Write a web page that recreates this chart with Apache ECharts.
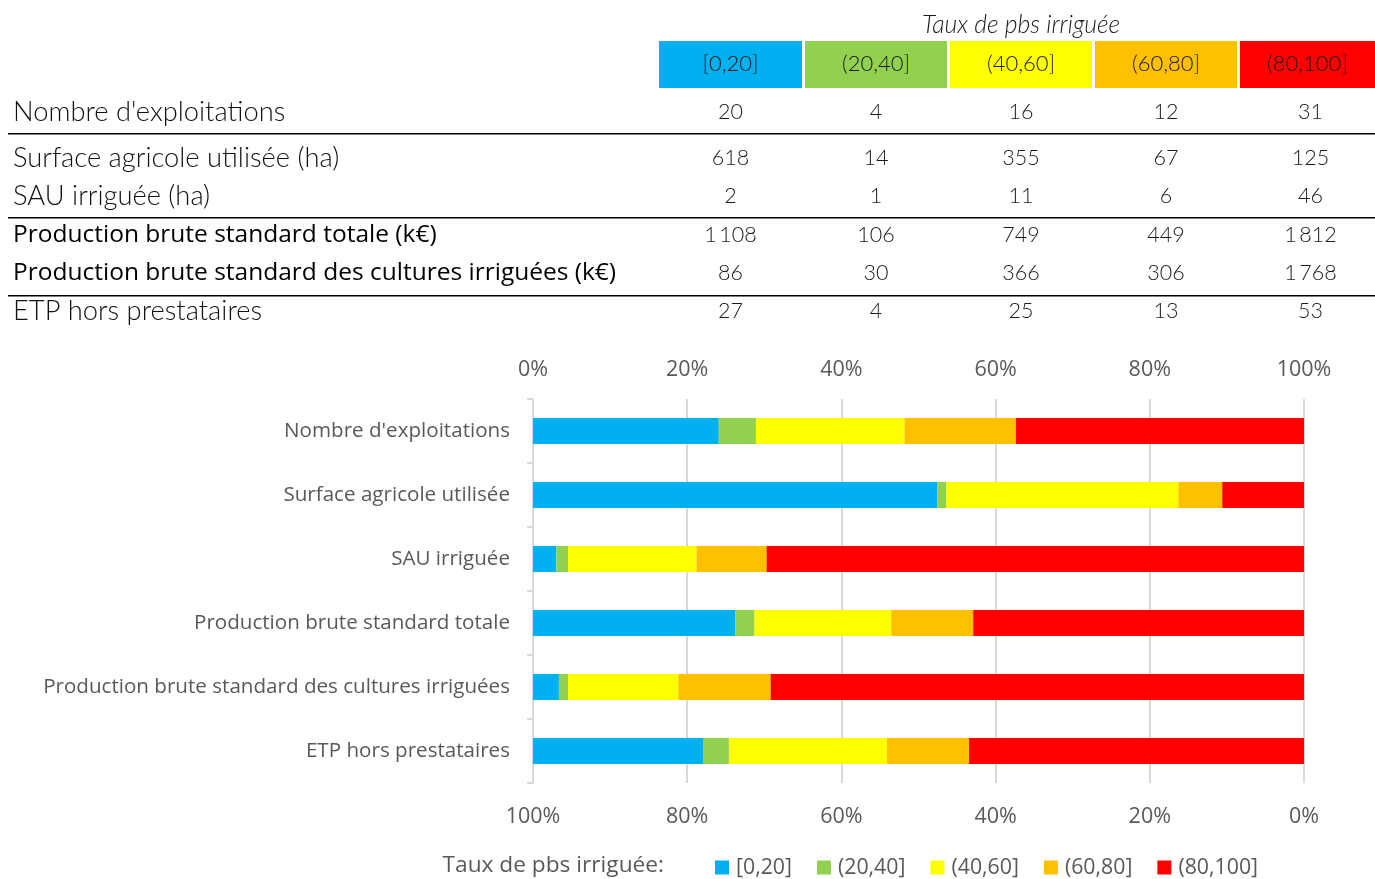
<!DOCTYPE html>
<html><head><meta charset="utf-8">
<script src="https://cdn.jsdelivr.net/npm/echarts@6/dist/echarts.min.js"></script>
<style>html,body{margin:0;padding:0;background:#fff}#c{width:1375px;height:879px}</style>
</head><body><div id="c"></div>
<script>
const classes = ['[0,20]', '(20,40]', '(40,60]', '(60,80]', '(80,100]'];
const colors = ['#00B0F0', '#92D050', '#FFFF00', '#FFC000', '#FF0000'];
const tableRows = ["Nombre d'exploitations", 'Surface agricole utilisée (ha)', 'SAU irriguée (ha)', 'Production brute standard totale (k€)', 'Production brute standard des cultures irriguées (k€)', 'ETP hors prestataires'];
const categories = ["Nombre d'exploitations", 'Surface agricole utilisée', 'SAU irriguée', 'Production brute standard totale', 'Production brute standard des cultures irriguées', 'ETP hors prestataires'];
const nbExpl = [20, 4, 16, 12, 31];
const sau = [618, 14, 355, 67, 125];
const sauIrr = [2, 1, 11, 6, 46];
const pbsTot = [1108, 106, 749, 449, 1812];
const pbsIrr = [86, 30, 366, 306, 1768];
const etp = [27, 4, 25, 13, 53];
const rows = [nbExpl, sau, sauIrr, pbsTot, pbsIrr, etp];
const topTicks = ['0%', '20%', '40%', '60%', '80%', '100%'];

function fmt(v){ return v >= 1000 ? String(Math.floor(v/1000)) + '\u2009' + String(v%1000).padStart(3,'0') : String(v); }

const shares = rows.map(r => { const t = r.reduce((a,b)=>a+b,0); return r.map(v => v / t * 100); });

const g = [];
g.push({type:'text', x:1021, y:25, style:{text:'Taux de pbs irriguée', font:'italic 300 24.7px Lato', fill:'#1a1a1a', align:'center', verticalAlign:'middle'}});
const colX = [659, 805, 950, 1095, 1240];
const colW = [143, 142, 142, 142, 135];
classes.forEach((c,i)=>{
  g.push({type:'rect', shape:{x:colX[i], y:41, width:colW[i], height:47}, style:{fill:colors[i]}});
  g.push({type:'text', x:colX[i]+colW[i]/2, y:64, style:{text:c, font:'300 22px Lato', fill:'#1a1a1a', align:'center', verticalAlign:'middle'}});
});
const rowY = [112, 158, 196, 235, 273, 311];
tableRows.forEach((lab,r)=>{
  const bold = (r===3||r===4);
  g.push({type:'text', x:13, y:rowY[r], style:{text:lab, font: bold ? '24.5px "Open Sans"' : '300 27.3px Lato', fill: bold ? '#000' : '#111', align:'left', verticalAlign:'middle'}});
  rows[r].forEach((v,i)=>{
    g.push({type:'text', x:colX[i]+colW[i]/2 + (i===4?3:0), y:rowY[r], style:{text:fmt(v), font:'300 21.5px Lato', fill:'#1a1a1a', align:'center', verticalAlign:'middle'}});
  });
});
[134, 218, 296].forEach(y=>{
  g.push({type:'rect', shape:{x:8, y:y-1, width:1367, height:1.5}, style:{fill:'#000'}});
});
g.push({type:'text', x:664, y:866, style:{text:'Taux de pbs irriguée:', font:'22.7px "Open Sans"', fill:'#595959', align:'right', verticalAlign:'middle'}});

const chart = echarts.init(document.getElementById('c'), null, {renderer:'canvas'});
chart.setOption({
  animation:false,
  textStyle:{fontFamily:'"Open Sans"'},
  grid:{left:533, right:71, top:399, bottom:96, containLabel:false},
  legend:{left:710, top:852, icon:'rect', itemWidth:14, itemHeight:14, itemGap:25,
    textStyle:{fontSize:21.3, color:'#595959', fontFamily:'"Open Sans"', padding:[0,0,0,2]},
    data:classes},
  xAxis:[
    {type:'value', position:'top', min:0, max:100, interval:20,
     axisLabel:{formatter:(v)=>topTicks[Math.round(v/20)], fontSize:21.5, color:'#595959', margin:18},
     axisLine:{show:false}, axisTick:{show:false},
     splitLine:{show:true, lineStyle:{color:'#d9d9d9', width:2}}},
    {type:'value', position:'bottom', min:0, max:100, interval:20, inverse:true,
     axisLabel:{formatter:(v)=>topTicks[Math.round(v/20)], fontSize:21.5, color:'#595959', margin:23},
     axisLine:{show:false}, axisTick:{show:false}, splitLine:{show:false}}
  ],
  yAxis:{type:'category', inverse:true, data:categories,
    axisLine:{show:true, lineStyle:{color:'#d9d9d9', width:2}},
    axisTick:{show:true, length:6, lineStyle:{color:'#d9d9d9', width:2}},
    axisLabel:{fontSize:20.6, color:'#595959', margin:23}},
  series: classes.map((c,i)=>({
    name:c, type:'bar', stack:'s', xAxisIndex:0, barWidth:26,
    itemStyle:{color:colors[i]},
    data: shares.map(s=>s[i])
  })),
  graphic:g
});
</script></body></html>
